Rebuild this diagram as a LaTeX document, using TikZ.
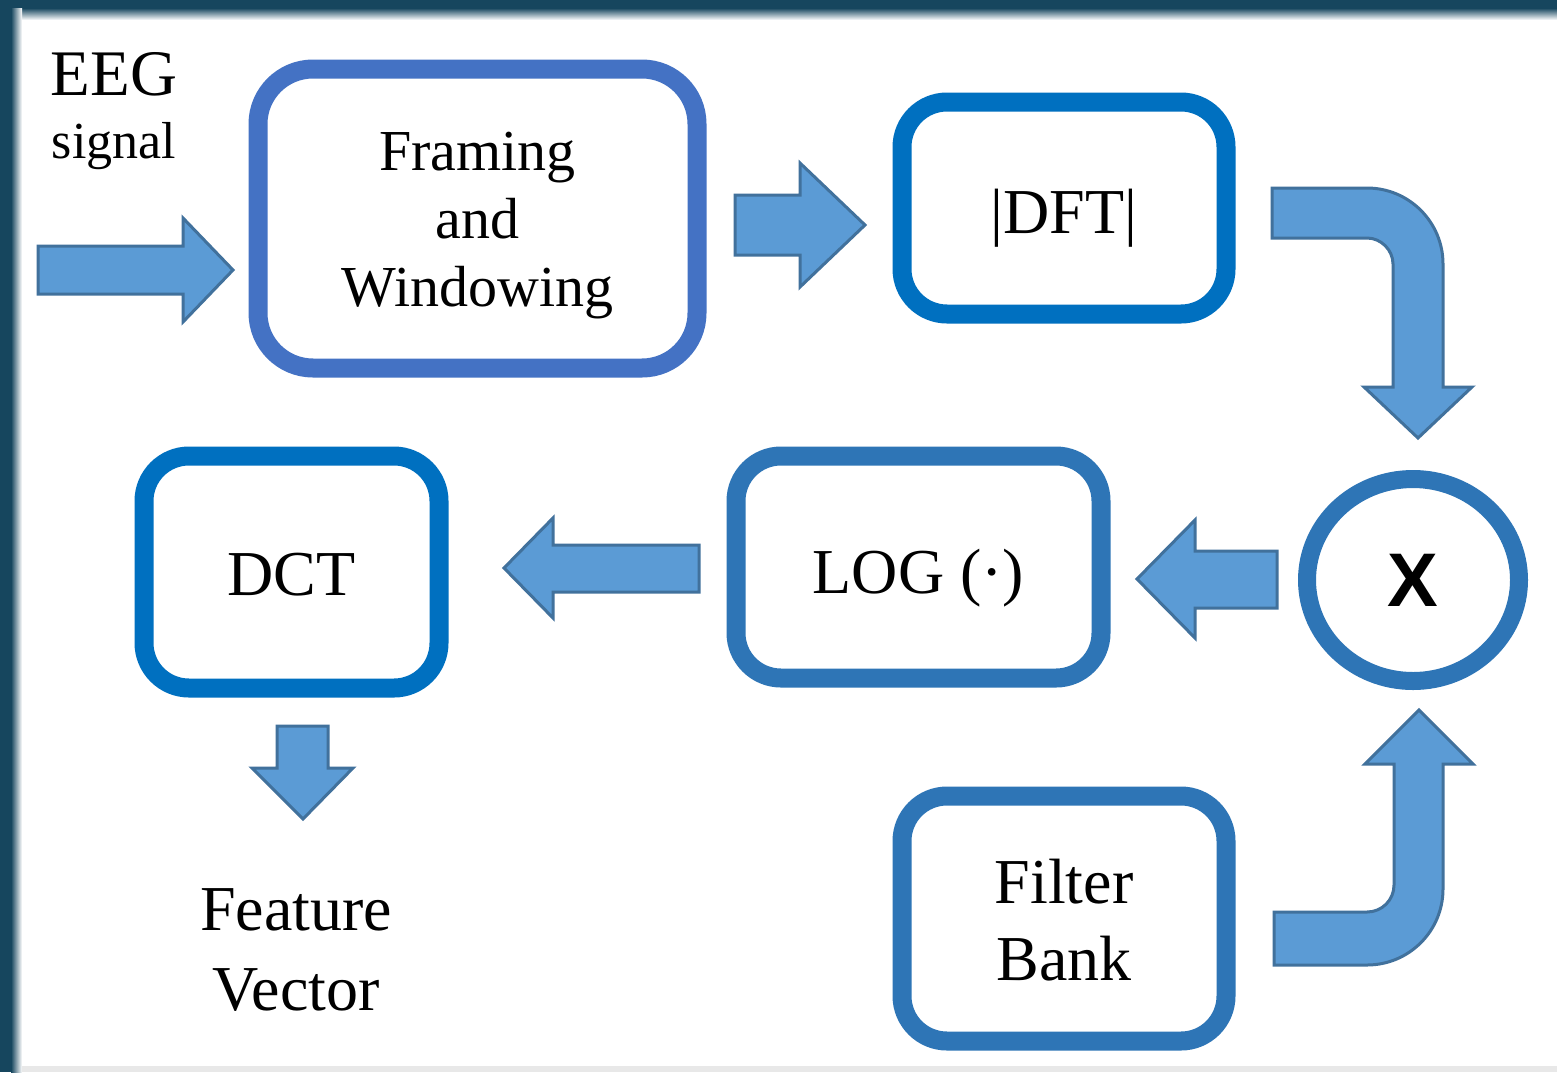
\documentclass[tikz,border=0pt]{standalone}
\usepackage{fontspec}
\setmainfont{Liberation Serif}
\newfontfamily\xsans{Liberation Sans}
\usetikzlibrary{shapes.geometric}
\definecolor{frameblue}{RGB}{68,114,196}
\definecolor{boxblue}{RGB}{0,112,192}
\definecolor{midblue}{RGB}{46,117,182}
\definecolor{arrowfill}{RGB}{91,155,213}
\definecolor{arrowline}{RGB}{65,113,156}
\definecolor{edgeteal}{RGB}{22,70,94}
\begin{document}
\begin{tikzpicture}[x=1pt,y=-1pt,
  blockbox/.style={draw, rectangle, rounded corners=45pt, line width=19pt, fill=white,
    inner sep=0pt},
  boxtext/.style={align=center, inner sep=0pt, font=\fontsize{64}{77}\selectfont},
  blockarrow/.style={fill=arrowfill, draw=arrowline, line width=3pt, line join=miter},
  plaintext/.style={align=center, inner sep=0pt}]
\useasboundingbox (0,0) rectangle (1557,1072);
% background and frame edges
\fill[white] (0,0) rectangle (1557,1072);
\fill[edgeteal] (0,0) rectangle (1557,8);
\shade[top color=edgeteal, bottom color=white] (0,8) rectangle (1557,20);
\fill[edgeteal] (0,0) rectangle (11,1072);
\shade[left color=edgeteal, right color=white] (11,8) rectangle (22,1072);
\fill[edgeteal] (0,0) rectangle (11,8);
\fill[gray!18] (22,1066) rectangle (1557,1072);

% boxes
\node[blockbox, draw=frameblue, minimum width=439pt, minimum height=299pt,
  rounded corners=55pt] (frame) at (477.5,218.5) {};
\node[blockbox, draw=boxblue, minimum width=324pt, minimum height=212pt] (dft) at (1064,208) {};
\node[blockbox, draw=midblue, minimum width=365pt, minimum height=222pt] (log) at (918.5,567) {};
\node[blockbox, draw=boxblue, minimum width=295pt, minimum height=232pt] (dct) at (291.5,572) {};
\node[blockbox, draw=midblue, minimum width=324pt, minimum height=245pt] (filt) at (1064,918.5) {};
\node[ellipse, draw=midblue, line width=18pt, fill=white, minimum width=212pt,
  minimum height=202pt, inner sep=0pt] (mult) at (1413,580) {};

% box texts (base anchor = baseline of the last line)
\node[boxtext, font=\fontsize{58}{68}\selectfont, anchor=base] (frametext) at (477.5,306)
  {Framing\\and\\Windowing};
\node[boxtext, anchor=base] (dfttext) at (1064,233) {|DFT|};
\node[boxtext, anchor=base] (logtext) at (918.5,593) {LOG (·)};
\node[boxtext, anchor=base] (dcttext) at (291.5,595) {DCT};
\node[boxtext, anchor=base] (filttext) at (1064,980) {Filter\\Bank};
\node[inner sep=0pt, font=\xsans\bfseries\fontsize{76}{80}\selectfont] (multtext)
  at (mult.center) {X};

% free texts
\node[plaintext, anchor=base] (eeg) at (114,95) {\fontsize{65}{70}\selectfont EEG};
\node[plaintext, anchor=base] (sig) at (114,158) {\fontsize{52}{60}\selectfont signal};
\node[plaintext, font=\fontsize{64}{80}\selectfont] (feat) at (296,950) {Feature\\Vector};

% block arrows
% input -> framing
\draw[blockarrow] (38,246) -- (183,246) -- (183,218) -- (233,270) -- (183,322)
  -- (183,294) -- (38,294) -- cycle;
% framing -> dft
\draw[blockarrow] (735,195) -- (800,195) -- (800,163) -- (865,225) -- (800,287)
  -- (800,255) -- (735,255) -- cycle;
% dft -> multiplier (bent)
\draw[blockarrow] (1272,188) -- (1367,188)
  .. controls (1409,188) and (1443,222) .. (1443,264)
  -- (1443,387) -- (1472,387) -- (1418,438) -- (1364,387) -- (1393,387)
  -- (1393,264) .. controls (1393,250) and (1381,238) .. (1367,238)
  -- (1272,238) -- cycle;
% filter bank -> multiplier (bent)
\draw[blockarrow] (1274,912) -- (1367,912)
  .. controls (1382,912) and (1394,900) .. (1394,885)
  -- (1394,764) -- (1365,764) -- (1419,710) -- (1473,764) -- (1443,764)
  -- (1443,889) .. controls (1443,931) and (1409,965) .. (1367,965)
  -- (1274,965) -- cycle;
% multiplier -> log
\draw[blockarrow] (1277,551) -- (1195,551) -- (1195,520) -- (1137,579) -- (1195,638)
  -- (1195,608) -- (1277,608) -- cycle;
% log -> dct
\draw[blockarrow] (699,545) -- (553,545) -- (553,518) -- (504,568) -- (553,618)
  -- (553,592) -- (699,592) -- cycle;
% dct -> feature vector
\draw[blockarrow] (277,726) -- (328,726) -- (328,768) -- (353,768) -- (303,819)
  -- (252,768) -- (277,768) -- cycle;
\end{tikzpicture}
\end{document}
